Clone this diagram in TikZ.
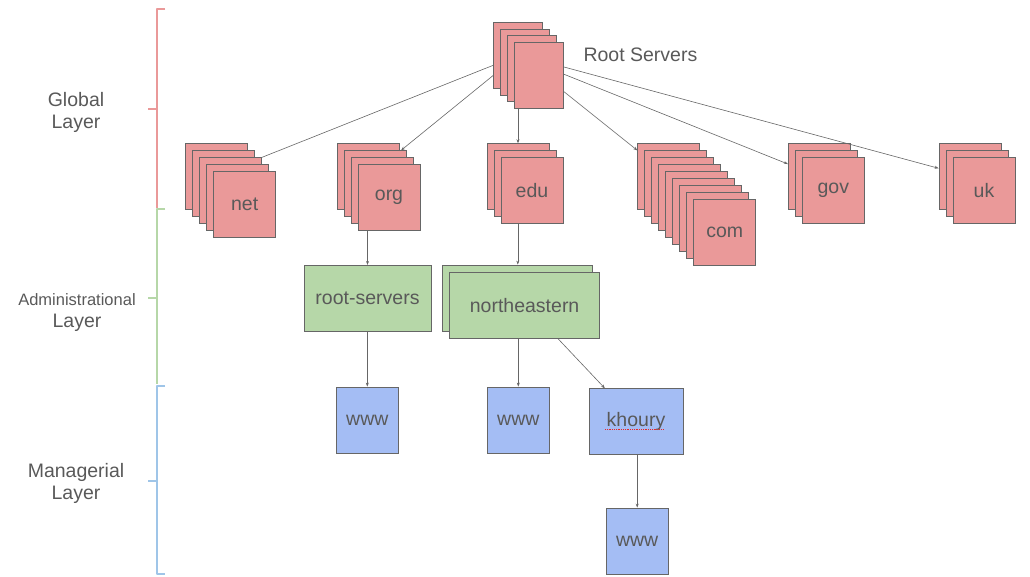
\documentclass[tikz,border=0pt]{standalone}
\usepackage{fontspec}
\setmainfont{Liberation Sans}
\usetikzlibrary{arrows.meta}
\definecolor{dns_red}{RGB}{234, 153, 153}
\definecolor{dns_green}{RGB}{182, 215, 168}
\definecolor{dns_blue}{RGB}{164, 189, 244}
\definecolor{dns_redline}{RGB}{234, 153, 153}
\definecolor{dns_greenline}{RGB}{182, 215, 168}
\definecolor{dns_blueline}{RGB}{159, 197, 232}
\definecolor{dns_edge}{RGB}{102, 102, 102}
\definecolor{dns_text}{RGB}{89, 89, 89}
\definecolor{dns_spell}{RGB}{230, 40, 40}
\tikzstyle{zone}=[rectangle,draw=dns_edge,line width=0.8pt,inner sep=0pt,
  text=dns_text,font=\fontsize{19.5}{22}\selectfont]
\tikzstyle{rn}=[zone,fill=dns_red,minimum width=62pt,minimum height=66pt]
\tikzstyle{rootn}=[zone,fill=dns_red,minimum width=49pt,minimum height=66pt]
\tikzstyle{gn}=[zone,fill=dns_green,minimum height=66pt]
\tikzstyle{bn}=[zone,fill=dns_blue,minimum width=62pt,minimum height=66pt]
\tikzstyle{link}=[draw=dns_edge,line width=0.6pt,-{Stealth[length=4pt,width=3pt]}]
\tikzstyle{layer}=[text=dns_text,align=center,font=\fontsize{19.5}{22}\selectfont]
\tikzstyle{brace}=[line width=2.3pt,line join=round]

\begin{document}
\begin{tikzpicture}[x=1pt,y=-1pt]
    \useasboundingbox (0,0) rectangle (1030,576);
    % layer brackets
    \draw[brace,draw=dns_redline] (165,9) -- (157,9) -- (157,208);
    \draw[brace,draw=dns_redline] (148,109) -- (157,109);
    \draw[brace,draw=dns_greenline] (165,209) -- (157,209) -- (157,384);
    \draw[brace,draw=dns_greenline] (148,298) -- (157,298);
    \draw[brace,draw=dns_blueline] (165,386) -- (157,386) -- (157,574) -- (165,574);
    \draw[brace,draw=dns_blueline] (148,481) -- (157,481);
    \node [style=layer] (global) at (76,112) {Global\\Layer};
    \node [style=layer] (admin) at (77,313)
      {{\fontsize{16.5}{22}\selectfont Administrational}\\Layer};
    \node [style=layer] (managerial) at (76,483) {Managerial\\Layer};
    % root servers
    \foreach \i in {1,...,3}
      \node [style=rootn] (root\i) at ({518.2+7*(\i-1)},{55.2+6.8*(\i-1)}) {};
    \node [style=rootn] (root4) at (539.2,75.6) {};
    \node [text=dns_text,font=\fontsize{19.5}{22}\selectfont,anchor=west]
      (roottext) at (580,55) {Root Servers};
    % top level domains
    \foreach \i in {1,...,4}
      \node [style=rn] (net\i) at ({216.7+7*(\i-1)},{176.7+7*(\i-1)}) {};
    \node [style=rn] (net5) at (244.7,204.7) {net};
    \foreach \i in {1,...,3}
      \node [style=rn] (org\i) at ({368+7*(\i-1)},{176.7+7*(\i-1)}) {};
    \node [style=rn] (org4) at (389,197.7) {org};
    \foreach \i in {1,...,2}
      \node [style=rn] (edu\i) at ({518+7*(\i-1)},{176.7+7*(\i-1)}) {};
    \node [style=rn] (edu3) at (532,190.7) {edu};
    \foreach \i in {1,...,8}
      \node [style=rn] (com\i) at ({668.7+7*(\i-1)},{176.7+7*(\i-1)}) {};
    \node [style=rn] (com9) at (724.7,232.7) {com};
    \foreach \i in {1,...,2}
      \node [style=rn] (gov\i) at ({819.3+7*(\i-1)},{176.7+7*(\i-1)}) {};
    \node [style=rn] (gov3) at (833.3,190.7) {gov};
    \foreach \i in {1,...,2}
      \node [style=rn] (uk\i) at ({970+7*(\i-1)},{176.7+7*(\i-1)}) {};
    \node [style=rn] (uk3) at (984,190.7) {uk};
    % second level
    \node [style=gn,minimum width=127pt] (rootsrv) at (367.5,298.3) {root-servers};
    \node [style=gn,minimum width=150pt] (ne1) at (517.8,298) {};
    \node [style=gn,minimum width=150pt] (ne2) at (524.6,305.3) {northeastern};
    % hosts
    \node [style=bn] (www1) at (367.3,420) {www};
    \node [style=bn] (www2) at (518.3,420) {www};
    \node [style=bn,minimum width=94pt] (khoury) at (636,421.7) {khoury};
    \draw[dns_spell,densely dotted,line width=0.8pt] ([xshift=-31pt,yshift=-8pt]khoury.center)
      -- ([xshift=28pt,yshift=-8pt]khoury.center);
    \node [style=bn] (www3) at (637.2,541) {www};
    % connectors
    \draw[draw=dns_edge,line width=0.6pt] (root1.202) to (net3.north east);
    \draw[link] (root1.219) to (org2.52);
    \draw[link] (root4.south -| edu1.north) to (edu1.north);
    \draw[link] (root4.-33) to (com1.140);
    \draw[link] (root4.3) to (gov1.158);
    \draw[link] (root4.19) to (uk1.165);
    \draw[link] (org4.south -| rootsrv.north) to (rootsrv.north);
    \draw[link] (edu3.south -| ne1.north) to (ne1.north);
    \draw[link] (rootsrv.south -| www1.north) to (www1.north);
    \draw[link] (ne2.south -| www2.north) to (www2.north);
    \draw[link] (ne2.-45) to (khoury.133);
    \draw[link] (khoury.south -| www3.north) to (www3.north);
  \end{tikzpicture}
\end{document}
